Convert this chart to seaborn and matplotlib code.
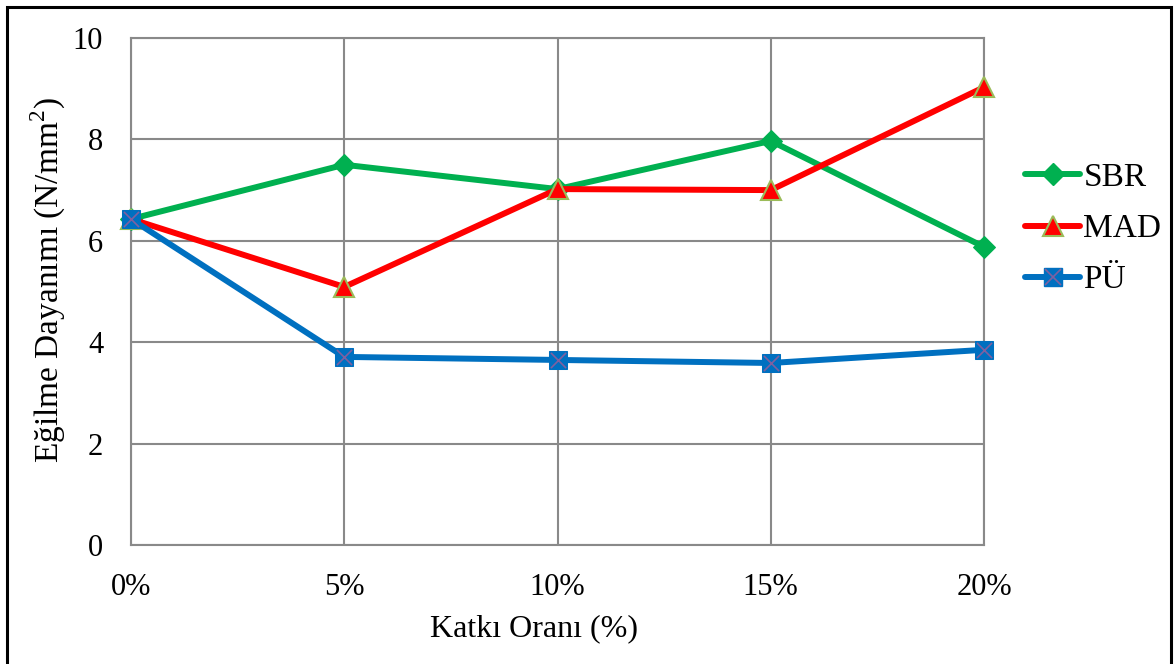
import matplotlib
matplotlib.use("Agg")
import matplotlib.pyplot as plt
from matplotlib.lines import Line2D
from matplotlib.legend_handler import HandlerTuple
from matplotlib.patches import Rectangle
import seaborn as sns
import pandas as pd

# Additive ratio categories and flexural strength values (N/mm²)
ratios = ["0%", "5%", "10%", "15%", "20%"]
sbr = [6.43, 7.50, 7.02, 7.97, 5.88]
mad = [6.43, 5.09, 7.02, 7.00, 9.03]
pu = [6.43, 3.71, 3.65, 3.59, 3.85]
series_names = ["SBR", "MAD", "PÜ"]
y_ticks = [0, 2, 4, 6, 8, 10]

sns.set_theme(style="white")
plt.rcParams["font.family"] = ["Liberation Serif", "DejaVu Serif"]
plt.rcParams["mathtext.fontset"] = "custom"
plt.rcParams["mathtext.rm"] = "Liberation Serif"
plt.rcParams["text.color"] = "black"
plt.rcParams["axes.labelcolor"] = "black"

df = pd.DataFrame({
    "Katkı": ratios * 3,
    "Değer": sbr + mad + pu,
    "Seri": [n for n in series_names for _ in ratios],
})

fig = plt.figure(figsize=(11.75, 6.64), dpi=100)
ax = fig.add_axes([131 / 1175, 119 / 664, 853 / 1175, 507 / 664])

colors = {"SBR": "#00B050", "MAD": "#FF0000", "PÜ": "#0070C0"}
styles = {
    "SBR": dict(marker="D", markersize=11.5, markeredgecolor="#00B050"),
    "MAD": dict(marker="^", markersize=14, markeredgecolor="#9BBB59", markeredgewidth=1.5),
    "PÜ": dict(marker="s", markersize=13, markeredgecolor="#0070C0"),
}
lw = 4.3

for i, name in enumerate(series_names):
    sub = df[df["Seri"] == name]
    sns.lineplot(data=sub, x="Katkı", y="Değer", ax=ax, color=colors[name],
                 linewidth=lw, sort=False, legend=False, zorder=3 + i,
                 clip_on=False, **styles[name])

# cross drawn over the square markers
sub_pu = df[df["Seri"] == "PÜ"]
sns.scatterplot(data=sub_pu, x="Katkı", y="Değer", ax=ax, marker="x",
                s=120, color="#7F60A0", linewidth=1.2, zorder=7, legend=False,
                clip_on=False)

ax.set_xlim(0, 4)
ax.set_ylim(0, 10)
ax.set_yticks(y_ticks)
ax.set_yticklabels([str(t) for t in y_ticks])
ax.grid(True, color="#898989", linewidth=1.5)
ax.set_axisbelow(True)
for sp in ax.spines.values():
    sp.set_color("#898989")
    sp.set_linewidth(1.5)
ax.tick_params(axis="both", length=0, labelsize=22, colors="black")
ax.tick_params(axis="y", pad=20)
ax.tick_params(axis="x", pad=20)

ax.set_xlabel("Katkı Oranı (%)", fontsize=23, color="black")
ax.set_ylabel(r"Eğilme Dayanımı (N/mm$^2$)", fontsize=24, color="black")
ax.xaxis.set_label_coords((534 - 131) / 853, (545 - 614) / 507)
ax.yaxis.set_label_coords((68 - 131) / 853, (545 - 280) / 507)

h_sbr = Line2D([], [], color=colors["SBR"], linewidth=lw, solid_capstyle="round",
               **styles["SBR"])
h_mad = Line2D([], [], color=colors["MAD"], linewidth=lw, solid_capstyle="round",
               **styles["MAD"])
h_pu = Line2D([], [], color=colors["PÜ"], linewidth=lw, solid_capstyle="round",
              **styles["PÜ"])
h_pux = Line2D([], [], linestyle="none", marker="x", markersize=11,
               markeredgecolor="#7F60A0", markeredgewidth=1.2)
leg = fig.legend([h_sbr, h_mad, (h_pu, h_pux)], series_names,
                 handler_map={tuple: HandlerTuple(ndivide=1, pad=0)},
                 loc="center left", bbox_to_anchor=(1025 / 1175, 1 - 229 / 664),
                 frameon=False, fontsize=24, handlelength=1.65,
                 handletextpad=0.1, labelspacing=0.62, borderaxespad=0,
                 borderpad=0)
for t in leg.get_texts():
    t.set_color("black")

fig.patches.append(Rectangle((6.5 / 1175, -0.01), (1171 - 6.5) / 1175, (664 - 6.5) / 664 + 0.01,
                             transform=fig.transFigure, fill=False,
                             edgecolor="black", linewidth=2.2))

fig.savefig("out.png", dpi=100, facecolor="white")
